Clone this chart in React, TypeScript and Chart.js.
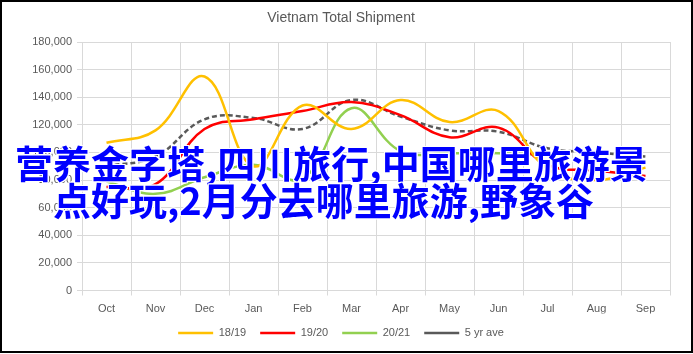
import React, { useEffect, useRef } from 'react';
import { Chart, registerables } from 'chart.js';

Chart.register(...registerables);

const chartTitle = 'Vietnam Total Shipment';
const months = ['Oct', 'Nov', 'Dec', 'Jan', 'Feb', 'Mar', 'Apr', 'May', 'Jun', 'Jul', 'Aug', 'Sep'];
const seriesNames = ['18/19', '19/20', '20/21', '5 yr ave'];
const s1819 = [107000, 116000, 155000, 90000, 134000, 117000, 138000, 122000, 130000, 88000, 80000, 89000];
const s1920 = [75000, 77000, 117000, 124000, 130000, 136500, 127000, 111000, 118000, 91000, 87000, 83000];
const s2021 = [79000, 70000, 82000, 91000, 81000, 132000, 101000, 99500, 99500, 98000, null, null];
const s5yr = [90000, 97000, 124000, 125000, 117000, 138000, 126000, 116000, 115000, 103000, 100000, 97000];
const yMin = 0;
const yMax = 180000;
const yStep = 20000;
const overlayLine1 = '营养金字塔,四川旅行,中国哪里旅游景';
const overlayLine2 = '点好玩,2月分去哪里旅游,野象谷';

const W = 693;
const H = 354;
const FONT = "'Liberation Sans', 'DejaVu Sans', sans-serif";
const TEXT = '#595959';
const GRID = '#D9D9D9';

export default function App() {
  const ref = useRef<HTMLCanvasElement | null>(null);

  useEffect(() => {
    if (!ref.current) return;
    const colors = ['#FFC000', '#FF0000', '#92D050', '#595959'];
    const values = [s1819, s1920, s2021, s5yr];
    const chart = new Chart(ref.current, {
      type: 'line',
      data: {
        labels: months,
        datasets: seriesNames.map((name, i) => ({
          label: name,
          data: values[i],
          borderColor: colors[i],
          backgroundColor: colors[i],
          borderWidth: 2.5,
          borderDash: i === 3 ? [5, 3] : [],
          pointRadius: 0,
          pointHoverRadius: 0,
          tension: 0.4,
          fill: false,
          spanGaps: false,
        })),
      },
      options: {
        responsive: false,
        animation: false,
        layout: { padding: { left: 12, right: 23, top: 0, bottom: 5.5 } },
        plugins: {
          tooltip: { enabled: false },
          title: {
            display: true,
            text: chartTitle,
            color: TEXT,
            font: { family: FONT, size: 14, weight: 'normal' },
            padding: { top: 10, bottom: 15.2 },
          },
          legend: {
            position: 'bottom',
            labels: {
              usePointStyle: true,
              pointStyle: 'line',
              pointStyleWidth: 35,
              boxWidth: 35,
              color: TEXT,
              font: { family: FONT, size: 11 },
              padding: 14,
            },
          },
        },
        scales: {
          x: {
            type: 'category',
            offset: true,
            grid: { offset: true, color: GRID, tickLength: 5, lineWidth: 1 },
            border: { color: GRID },
            ticks: { color: TEXT, font: { family: FONT, size: 11 }, padding: 6.5, maxRotation: 0 },
            afterFit: (scale: any) => {
              scale.height = 23;
            },
          },
          y: {
            min: yMin,
            max: yMax,
            grid: { color: GRID, tickLength: 5 },
            border: { color: GRID },
            ticks: {
              stepSize: yStep,
              color: TEXT,
              font: { family: FONT, size: 11 },
              padding: 5,
              callback: (v: any) => Number(v).toLocaleString('en-US'),
            },
            afterFit: (scale: any) => {
              scale.width = 70;
            },
          },
        },
      },
    });
    return () => chart.destroy();
  }, []);

  const overlayStyle: React.CSSProperties = {
    position: 'absolute',
    whiteSpace: 'nowrap',
    fontFamily: "'Noto Sans CJK SC', sans-serif",
    fontWeight: 700,
    fontSize: 38,
    lineHeight: '38px',
    color: '#0000FF',
    textShadow:
      '1px 0 0 #fff, -1px 0 0 #fff, 0 1px 0 #fff, 0 -1px 0 #fff, 1px 1px 0 #fff, -1px -1px 0 #fff, 1px -1px 0 #fff, -1px 1px 0 #fff',
  };

  return (
    <div style={{ position: 'absolute', left: 0, top: 0, width: W, height: H, background: '#fff' }}>
      <canvas ref={ref} width={W} height={H} style={{ position: 'absolute', left: 0, top: 0, width: W, height: H }} />
      <div style={{ ...overlayStyle, left: 15, top: 143 }}>{overlayLine1}</div>
      <div style={{ ...overlayStyle, left: 53, top: 180 }}>{overlayLine2}</div>
      <div
        style={{
          position: 'absolute',
          left: 0,
          top: 0,
          width: W,
          height: 353,
          border: '2px solid #000',
          boxSizing: 'border-box',
          pointerEvents: 'none',
        }}
      />
    </div>
  );
}
